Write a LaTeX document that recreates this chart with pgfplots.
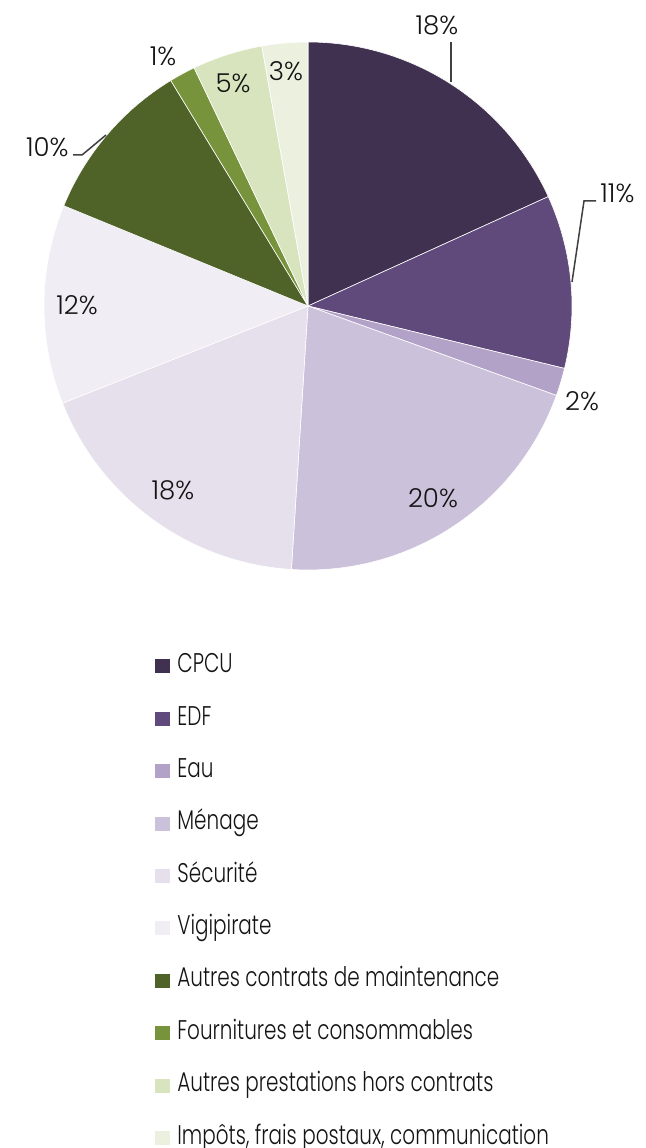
\documentclass[border=0pt]{standalone}
\usepackage{pgfplots}
\pgfplotsset{compat=1.18}
\usepackage{fontspec}
\setmainfont{Poppins}[FakeStretch=0.74, UprightFont=* Light]
\newfontfamily\labfont{Poppins}[UprightFont=* Light]
\definecolor{c1}{HTML}{403151}
\definecolor{c2}{HTML}{604A7B}
\definecolor{c3}{HTML}{B3A2C7}
\definecolor{c4}{HTML}{CCC1DA}
\definecolor{c5}{HTML}{E5E0EC}
\definecolor{c6}{HTML}{F0EDF5}
\definecolor{c7}{HTML}{4F6228}
\definecolor{c8}{HTML}{77933C}
\definecolor{c9}{HTML}{D7E4BD}
\definecolor{c10}{HTML}{EBF1DE}
\begin{document}
\begin{tikzpicture}
\begin{axis}[x=0.5pt,y=0.5pt,xmin=0,xmax=645,ymin=0,ymax=1148,
  hide axis, clip=false,
  every axis plot/.append style={draw=white,line width=0.3pt,samples=80,variable=\t},
  legend style={at={(axis cs:155,493)},anchor=north west,draw=none,fill=none,
    font=\fontsize{13.5pt}{15pt}\selectfont, text=black!92, row sep=15.2pt, inner sep=0pt,
    nodes={inner sep=0pt, text height=8.6pt, text depth=2.4pt},
    /tikz/every odd column/.append style={column sep=3.5pt}},
  legend cell align=left,
  legend image code/.code={\fill[#1,draw=none] (0pt,-3.5pt) rectangle (7.5pt,3.5pt);},
]
\coordinate (BL) at (axis cs:0,0);
\coordinate (TR) at (axis cs:645,1148);
% values (%): 18.2, 10.6, 1.7, 20.5, 18.0, 12.2, 10.1, 1.6, 4.3, 2.8 ; angle = 90 - 3.6*cumulative
\addplot[fill=c1,domain=24.48:90] ({308+264*cos(\t)},{842+264*sin(\t)}) -- (axis cs:308,842) -- cycle;
\addlegendentry{CPCU}
\addplot[fill=c2,domain=-13.68:24.48] ({308+264*cos(\t)},{842+264*sin(\t)}) -- (axis cs:308,842) -- cycle;
\addlegendentry{EDF}
\addplot[fill=c3,domain=-19.8:-13.68] ({308+264*cos(\t)},{842+264*sin(\t)}) -- (axis cs:308,842) -- cycle;
\addlegendentry{Eau}
\addplot[fill=c4,domain=-93.6:-19.8] ({308+264*cos(\t)},{842+264*sin(\t)}) -- (axis cs:308,842) -- cycle;
\addlegendentry{Ménage}
\addplot[fill=c5,domain=-158.4:-93.6] ({308+264*cos(\t)},{842+264*sin(\t)}) -- (axis cs:308,842) -- cycle;
\addlegendentry{Sécurité}
\addplot[fill=c6,domain=-202.32:-158.4] ({308+264*cos(\t)},{842+264*sin(\t)}) -- (axis cs:308,842) -- cycle;
\addlegendentry{Vigipirate}
\addplot[fill=c7,domain=-238.68:-202.32] ({308+264*cos(\t)},{842+264*sin(\t)}) -- (axis cs:308,842) -- cycle;
\addlegendentry{Autres contrats de maintenance}
\addplot[fill=c8,domain=-244.44:-238.68] ({308+264*cos(\t)},{842+264*sin(\t)}) -- (axis cs:308,842) -- cycle;
\addlegendentry{Fournitures et consommables}
\addplot[fill=c9,domain=-259.92:-244.44] ({308+264*cos(\t)},{842+264*sin(\t)}) -- (axis cs:308,842) -- cycle;
\addlegendentry{Autres prestations hors contrats}
\addplot[fill=c10,domain=-270:-259.92] ({308+264*cos(\t)},{842+264*sin(\t)}) -- (axis cs:308,842) -- cycle;
\addlegendentry{Impôts, frais postaux, communication}
% leader lines
\addplot[forget plot,draw=black!75,line width=0.75pt] coordinates {(451,1106) (451,1066)};
\addplot[forget plot,draw=black!75,line width=0.75pt] coordinates {(596,947) (584,947) (572,866)};
\addplot[forget plot,draw=black!75,line width=0.75pt] coordinates {(73,993) (82,993) (106,1013)};
% labels
\begin{scope}[every node/.style={font=\labfont\fontsize{13pt}{15pt}\selectfont, text=black!92, inner sep=0pt}]
\node[anchor=center] at (axis cs:437,1123) {18\%};
\node[anchor=west] at (axis cs:600,955) {11\%};
\node[anchor=center] at (axis cs:582,747) {2\%};
\node[anchor=center] at (axis cs:433,650) {20\%};
\node[anchor=center] at (axis cs:173,658) {18\%};
\node[anchor=center] at (axis cs:77,843) {12\%};
\node[anchor=east] at (axis cs:69,1001) {10\%};
\node[anchor=center] at (axis cs:163,1092) {1\%};
\node[anchor=center] at (axis cs:233,1065) {5\%};
\node[anchor=center] at (axis cs:286,1077) {3\%};
\end{scope}
\end{axis}
\pgfresetboundingbox
\path[use as bounding box] (BL) rectangle (TR);
\end{tikzpicture}
\end{document}
